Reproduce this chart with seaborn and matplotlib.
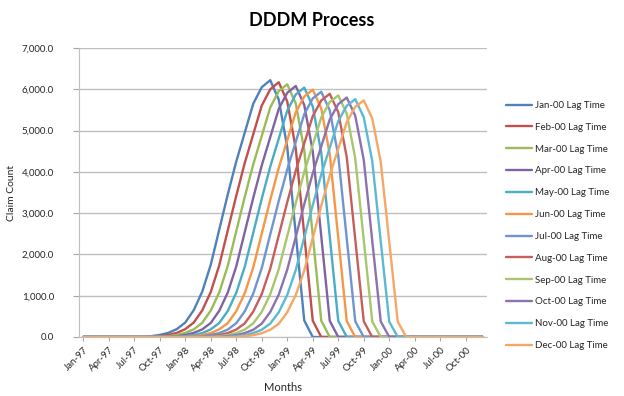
import matplotlib
matplotlib.use("Agg")
import matplotlib.pyplot as plt
import numpy as np
import pandas as pd
import seaborn as sns

# ---------------- data ----------------
months = ["Jan-97", "Feb-97", "Mar-97", "Apr-97", "May-97", "Jun-97", "Jul-97", "Aug-97",
          "Sep-97", "Oct-97", "Nov-97", "Dec-97", "Jan-98", "Feb-98", "Mar-98", "Apr-98",
          "May-98", "Jun-98", "Jul-98", "Aug-98", "Sep-98", "Oct-98", "Nov-98", "Dec-98",
          "Jan-99", "Feb-99", "Mar-99", "Apr-99", "May-99", "Jun-99", "Jul-99", "Aug-99",
          "Sep-99", "Oct-99", "Nov-99", "Dec-99", "Jan-00", "Feb-00", "Mar-00", "Apr-00",
          "May-00", "Jun-00", "Jul-00", "Aug-00", "Sep-00", "Oct-00", "Nov-00", "Dec-00"]
tick_labels = ["Jan-97", "Apr-97", "Jul-97", "Oct-97", "Jan-98", "Apr-98", "Jul-98", "Oct-98",
               "Jan-99", "Apr-99", "Jul-99", "Oct-99", "Jan-00", "Apr-00", "Jul-00", "Oct-00"]

series_names = ["Jan-00 Lag Time", "Feb-00 Lag Time", "Mar-00 Lag Time", "Apr-00 Lag Time",
                "May-00 Lag Time", "Jun-00 Lag Time", "Jul-00 Lag Time", "Aug-00 Lag Time",
                "Sep-00 Lag Time", "Oct-00 Lag Time", "Nov-00 Lag Time", "Dec-00 Lag Time"]

jan00 = [0]*8 + [20, 50, 100, 190, 350, 650, 1100, 1750, 2600, 3450, 4250, 4950, 5650, 6050, 6220, 5750, 4600, 2500, 400] + [0]*21
feb00 = [0]*9 + [20, 50, 100, 190, 350, 645, 1090, 1735, 2580, 3420, 4215, 4910, 5605, 6000, 6170, 5705, 4565, 2480, 395] + [0]*20
mar00 = [0]*10 + [20, 50, 100, 185, 345, 640, 1080, 1720, 2560, 3395, 4180, 4870, 5560, 5955, 6120, 5660, 4525, 2460, 395] + [0]*19
apr00 = [0]*11 + [20, 50, 100, 185, 340, 635, 1075, 1710, 2540, 3370, 4155, 4840, 5525, 5915, 6080, 5620, 4495, 2445, 390] + [0]*18
may00 = [0]*12 + [20, 50, 95, 185, 340, 630, 1070, 1700, 2525, 3350, 4125, 4805, 5485, 5875, 6040, 5585, 4465, 2430, 390] + [0]*17
jun00 = [0]*13 + [20, 50, 95, 185, 335, 625, 1060, 1685, 2505, 3320, 4095, 4765, 5440, 5825, 5990, 5535, 4430, 2405, 385] + [0]*16
jul00 = [0]*14 + [20, 50, 95, 180, 335, 620, 1050, 1670, 2485, 3295, 4060, 4725, 5395, 5780, 5940, 5490, 4395, 2385, 380] + [0]*15
aug00 = [0]*15 + [20, 45, 95, 180, 330, 615, 1040, 1655, 2460, 3265, 4025, 4690, 5350, 5730, 5890, 5445, 4355, 2365, 380] + [0]*14
sep00 = [0]*16 + [20, 45, 95, 180, 330, 610, 1035, 1645, 2445, 3245, 3995, 4655, 5315, 5690, 5850, 5410, 4325, 2350, 375] + [0]*13
oct00 = [0]*17 + [20, 45, 95, 175, 325, 605, 1025, 1630, 2425, 3215, 3965, 4615, 5270, 5640, 5800, 5360, 4290, 2330, 375] + [0]*12
nov00 = [0]*18 + [20, 45, 95, 175, 325, 600, 1020, 1620, 2410, 3195, 3935, 4585, 5230, 5600, 5760, 5325, 4260, 2315, 370] + [0]*11
dec00 = [0]*19 + [20, 45, 90, 175, 320, 600, 1015, 1610, 2395, 3180, 3915, 4560, 5205, 5575, 5730, 5295, 4240, 2305, 370] + [0]*10

all_series = [jan00, feb00, mar00, apr00, may00, jun00, jul00, aug00, sep00, oct00, nov00, dec00]

colors = ["#4F81BD", "#C0504D", "#9BBB59", "#8064A2", "#4BACC6", "#F79646",
          "#6F95D0", "#C65F5C", "#A8C66E", "#8C73AE", "#5CB9D1", "#F6A766"]

# ---------------- build long table ----------------
rows = []
for name, vals in zip(series_names, all_series):
    for i, v in enumerate(vals):
        rows.append({"idx": i, "Month": months[i], "Claim Count": v, "Series": name})
df = pd.DataFrame(rows)

# ---------------- figure ----------------
sns.set_style("white")
plt.rcParams["font.family"] = ["Lato", "DejaVu Sans"]

W, H = 624, 396
fig = plt.figure(figsize=(W / 100, H / 100), dpi=100)
ax = fig.add_axes([79 / W, 1 - 337 / H, (487 - 79) / W, (337 - 48) / H])

sns.lineplot(data=df, x="idx", y="Claim Count", hue="Series", hue_order=series_names,
             palette=colors, linewidth=1.7, sort=False, estimator=None, ax=ax, legend=True)

ax.set_xlim(-0.5, 47.5)
ax.set_ylim(0, 7000)
ax.set_yticks(np.arange(0, 7001, 1000))
ax.set_yticklabels([f"{v:,.1f}" for v in np.arange(0, 7001, 1000)], fontsize=7, color="#262626")
tick_pos = [months.index(t) for t in tick_labels]
ax.set_xticks(tick_pos)
ax.set_xticklabels(tick_labels, rotation=45, ha="right", va="top", rotation_mode="anchor",
                   fontsize=7, color="#262626")

ax.yaxis.grid(True, color="#BFBFBF", linewidth=1.0)
ax.xaxis.grid(False)
ax.set_axisbelow(True)
for s in ["top", "right"]:
    ax.spines[s].set_visible(False)
ax.spines["left"].set_color("#BFBFBF")
ax.spines["bottom"].set_color("#BFBFBF")
ax.tick_params(axis="y", length=4, color="#A6A6A6", pad=14, left=True)
ax.tick_params(axis="x", length=3, color="#A6A6A6", pad=3, bottom=True)

ax.set_xlabel("Months", fontsize=8, color="#262626", labelpad=6)
ax.set_ylabel("Claim Count", fontsize=7.5, color="#262626", labelpad=6)
ax.yaxis.set_label_coords(-63 / (487 - 79), 0.5)

fig.text(0.5, 1 - 21 / H, "DDDM Process", ha="center", va="center",
         fontsize=13, fontweight="bold", color="#000000")

handles, labels = ax.get_legend_handles_labels()
ax.get_legend().remove()
fig.legend(handles, labels, loc="upper left", bbox_to_anchor=(503 / W, 1 - 98 / H),
           frameon=False, fontsize=7, handlelength=2.7, handletextpad=0.25,
           labelspacing=1.32, borderpad=0.3, borderaxespad=0)

fig.savefig("out.png", dpi=100)
